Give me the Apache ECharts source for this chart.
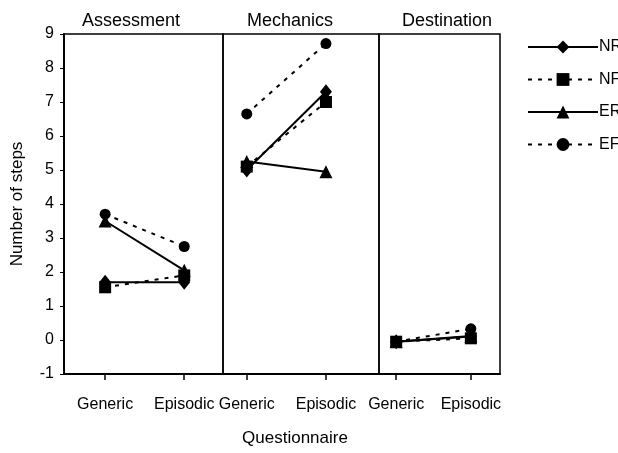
<!DOCTYPE html>
<html>
<head>
<meta charset="utf-8">
<script src="https://cdn.jsdelivr.net/npm/echarts@6/dist/echarts.min.js"></script>
<style>
  html, body { margin: 0; padding: 0; background: #fff; }
  #chart { width: 618px; height: 453px; }
</style>
</head>
<body>
<div id="chart"></div>
<script>
// panels and questionnaire types
var panels = ['Assessment', 'Mechanics', 'Destination'];
var questionnaires = ['Generic', 'Episodic'];

// number of steps per panel: [Generic, Episodic]
var NR = [[1.7, 1.7], [5.0, 7.3], [-0.05, 0.1]];
var NF = [[1.55, 1.9], [5.1, 7.0], [-0.05, 0.05]];
var ER = [[3.5, 2.05], [5.25, 4.95], [-0.05, 0.12]];
var EF = [[3.7, 2.75], [6.65, 8.72], [-0.05, 0.33]];

var groups = [
  { name: 'NR', values: NR, symbol: 'diamond', size: [12, 15], dash: 'solid' },
  { name: 'NF', values: NF, symbol: 'rect', size: 12, dash: [4, 6] },
  { name: 'ER', values: ER, symbol: 'triangle', size: 13, dash: 'solid' },
  { name: 'EF', values: EF, symbol: 'circle', size: 11, dash: [4, 6] }
];

// panel geometry (pixels) and x ranges
var grids = [
  { left: 64, width: 159, min: 0.48, max: 2.49 },
  { left: 223, width: 156, min: 0.70, max: 2.67 },
  { left: 379, width: 121, min: 0.77, max: 2.39 }
];

var chart = echarts.init(document.getElementById('chart'));

var font = 'Liberation Sans, Arial, sans-serif';

var gridOpts = [], xAxes = [], yAxes = [], series = [];

grids.forEach(function (g, i) {
  gridOpts.push({
    left: g.left, width: g.width, top: 34, height: 340,
    show: true, borderColor: '#000', borderWidth: 1.5, backgroundColor: 'transparent'
  });
  xAxes.push({
    type: 'value', gridIndex: i, min: g.min, max: g.max,
    splitLine: { show: false },
    axisLine: { show: true, onZero: false, lineStyle: { color: '#000', width: 2 } },
    axisTick: { show: true, customValues: [1, 2], length: 6, lineStyle: { color: '#000', width: 1.5 } },
    axisLabel: {
      customValues: [1, 2], margin: 23, color: '#000', fontSize: 16, fontFamily: font,
      formatter: function (v) { return questionnaires[Math.round(v) - 1] || ''; }
    }
  });
  yAxes.push({
    type: 'value', gridIndex: i, min: -1, max: 9, interval: 1,
    show: i === 0,
    name: i === 0 ? 'Number of steps' : '',
    nameLocation: 'middle', nameGap: 38,
    nameTextStyle: { color: '#000', fontSize: 17, fontFamily: font },
    splitLine: { show: false },
    axisLine: { show: true, lineStyle: { color: '#000', width: 2 } },
    axisTick: { show: true, length: 4, lineStyle: { color: '#000' } },
    axisLabel: { color: '#000', fontSize: 16, fontFamily: font, margin: 10 }
  });
  groups.forEach(function (s) {
    series.push({
      name: s.name, type: 'line', xAxisIndex: i, yAxisIndex: i,
      symbol: s.symbol, symbolSize: s.size, clip: false,
      lineStyle: { color: '#000', width: 2, type: s.dash },
      itemStyle: { color: '#000' },
      data: s.values[i].map(function (v, k) { return [k + 1, v]; })
    });
  });
});

var titleCenters = [131, 290, 447];

chart.setOption({
  animation: false,
  backgroundColor: '#fff',
  grid: gridOpts,
  xAxis: xAxes,
  yAxis: yAxes,
  legend: {
    data: groups.map(function (s) { return s.name; }),
    orient: 'vertical', left: 527, top: 39, padding: 0,
    itemWidth: 70, itemHeight: 16, itemGap: 16.5,
    textStyle: { color: '#000', fontSize: 16, fontFamily: font, padding: [0, 0, 0, -4] }
  },
  graphic: panels.map(function (p, i) {
    return {
      type: 'text', x: titleCenters[i], y: 12,
      style: { text: p, textAlign: 'center', fill: '#000', fontSize: 18, fontFamily: font }
    };
  }).concat([{
    type: 'text', x: 295, y: 430,
    style: { text: 'Questionnaire', textAlign: 'center', fill: '#000', fontSize: 17, fontFamily: font }
  }]),
  series: series
});
</script>
</body>
</html>
